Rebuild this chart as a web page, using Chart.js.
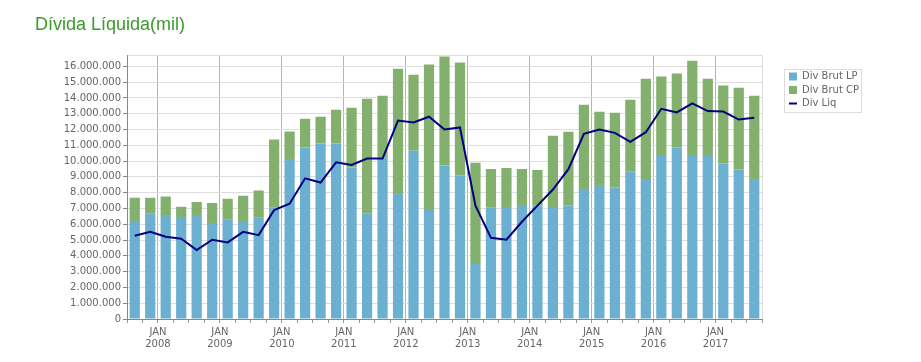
<!DOCTYPE html>
<html>
<head>
<meta charset="utf-8">
<script src="https://cdn.jsdelivr.net/npm/chart.js@4/dist/chart.umd.min.js"></script>
<style>
html,body{margin:0;padding:0;background:#fff;}
#wrap{width:921px;height:362px;}
</style>
</head>
<body>
<div id="wrap"><canvas id="c" width="921" height="362"></canvas></div>
<script>
const chartTitle = 'Dívida Líquida(mil)';
const seriesNames = ['Div Brut LP', 'Div Brut CP', 'Div Liq'];

// quarter start months, Q3 2007 .. Q3 2017
const quarters = [
  '2007-07','2007-10',
  '2008-01','2008-04','2008-07','2008-10',
  '2009-01','2009-04','2009-07','2009-10',
  '2010-01','2010-04','2010-07','2010-10',
  '2011-01','2011-04','2011-07','2011-10',
  '2012-01','2012-04','2012-07','2012-10',
  '2013-01','2013-04','2013-07','2013-10',
  '2014-01','2014-04','2014-07','2014-10',
  '2015-01','2015-04','2015-07','2015-10',
  '2016-01','2016-04','2016-07','2016-10',
  '2017-01','2017-04','2017-07'
];

const divBrutLP = [
  6200000, 6670000,
  6580000, 6460000, 6580000, 6080000,
  6290000, 6200000, 6410000, 7050000,
  10140000, 10860000, 11110000, 11110000,
  9590000, 6670000, 10220000, 7980000,
  10650000, 6970000, 9720000, 9080000,
  3490000, 7050000, 7090000, 7220000,
  7180000, 7090000, 7180000, 8230000,
  8490000, 8320000, 9330000, 8870000,
  10390000, 10860000, 10390000, 10390000,
  9840000, 9460000, 8870000
];

const divBrutCP = [
  1480000, 1010000,
  1170000, 650000, 830000, 1270000,
  1330000, 1610000, 1720000, 4320000,
  1730000, 1820000, 1700000, 2140000,
  3790000, 7280000, 3920000, 7870000,
  4820000, 9140000, 6900000, 7160000,
  6400000, 2450000, 2480000, 2280000,
  2260000, 4510000, 4670000, 5340000,
  4630000, 4740000, 4560000, 6350000,
  4960000, 4680000, 5970000, 4830000,
  4940000, 5190000, 5270000
];

const divLiq = [
  5270000, 5520000,
  5210000, 5080000, 4360000, 5020000,
  4850000, 5520000, 5310000, 6900000,
  7300000, 8910000, 8640000, 9920000,
  9760000, 10160000, 10160000, 12570000,
  12440000, 12810000, 12000000, 12130000,
  7180000, 5140000, 5020000, 6160000,
  7180000, 8200000, 9490000, 11730000,
  12000000, 11790000, 11220000, 11830000,
  13310000, 13080000, 13650000, 13170000,
  13140000, 12630000, 12740000
];

const yStep = 1000000;
const yMax = 16680000;

function fmt(v) {
  return String(Math.round(v)).replace(/\B(?=(\d{3})+(?!\d))/g, '.');
}
function isJan(i) {
  return i !== undefined && quarters[i] !== undefined && quarters[i].endsWith('-01');
}

const tickFont = { family: 'DejaVu Sans', size: 10, lineHeight: 1.25 };

const legendBox = {
  id: 'legendBox',
  afterLayout(chart) {
    const lg = chart.legend;
    if (!lg) return;
    const pad = lg.options.labels.padding;
    const w = lg.width, h = lg.height;
    lg.left = 789 - pad;
    lg.top = 71.5 - pad;
    lg.right = lg.left + w;
    lg.bottom = lg.top + h;
  },
  afterDraw(chart) {
    const lg = chart.legend;
    const hb = lg && lg.legendHitBoxes;
    if (!hb || !hb.length) return;
    let l = Infinity, t = Infinity, r = -Infinity, b = -Infinity;
    hb.forEach(h => {
      l = Math.min(l, h.left); t = Math.min(t, h.top);
      r = Math.max(r, h.left + h.width); b = Math.max(b, h.top + h.height);
    });
    const ctx = chart.ctx;
    ctx.save();
    ctx.strokeStyle = '#dddddd';
    ctx.lineWidth = 1;
    ctx.strokeRect(Math.round(l - 5) + 0.5, Math.round(t - 3) + 0.5, Math.round(r - l + 7), Math.round(b - t + 6));
    ctx.restore();
  }
};

new Chart(document.getElementById('c'), {
  type: 'bar',
  data: {
    labels: quarters,
    datasets: [
      {
        label: seriesNames[0],
        data: divBrutLP,
        backgroundColor: '#6cb0d1',
        borderWidth: 0,
        barPercentage: 0.66,
        categoryPercentage: 1,
        pointStyle: 'rect',
        order: 1
      },
      {
        label: seriesNames[1],
        data: divBrutCP,
        backgroundColor: '#83b06c',
        borderWidth: 0,
        barPercentage: 0.66,
        categoryPercentage: 1,
        pointStyle: 'rect',
        order: 1
      },
      {
        type: 'line',
        label: seriesNames[2],
        data: divLiq,
        borderColor: '#000080',
        backgroundColor: '#000080',
        borderWidth: 2,
        pointRadius: 0,
        pointBorderWidth: 2,
        pointStyle: 'line',
        tension: 0,
        fill: false,
        stack: 'liq',
        order: 0
      }
    ]
  },
  options: {
    responsive: false,
    animation: false,
    devicePixelRatio: 1,
    layout: { padding: { left: 35, right: 159, top: 0, bottom: 8 } },
    plugins: {
      title: {
        display: true,
        text: chartTitle,
        align: 'start',
        color: '#3a9b2a',
        font: { family: 'Liberation Sans', size: 18, weight: 'normal' },
        padding: { top: 14, bottom: 20 }
      },
      legend: {
        display: true,
        position: 'chartArea',
        align: 'start',
        labels: {
          usePointStyle: true,
          pointStyleWidth: 8,
          boxWidth: 8,
          boxHeight: 8,
          padding: 3.5,
          color: '#666666',
          font: { family: 'DejaVu Sans', size: 10 },
          sort: (a, b) => a.datasetIndex - b.datasetIndex
        }
      },
      tooltip: { enabled: false }
    },
    scales: {
      x: {
        stacked: true,
        offset: true,
        grid: {
          offset: true,
          tickLength: 4,
          color: c => isJan(c.index) ? '#b4b4b4' : (c.index === undefined ? '#dddddd' : 'rgba(0,0,0,0)'),
          tickColor: '#999999'
        },
        border: { color: '#888888' },
        ticks: {
          autoSkip: false,
          maxRotation: 0,
          minRotation: 0,
          labelOffset: -7.75,
          padding: 3,
          color: '#666666',
          font: tickFont,
          callback: (v, i) => isJan(i) ? ['JAN', quarters[i].slice(0, 4)] : ''
        }
      },
      y: {
        stacked: true,
        min: 0,
        max: yMax,
        afterFit(s) { s.width = 92; },
        afterBuildTicks(s) {
          const t = [];
          for (let v = s.min; v <= s.max; v += yStep) t.push({ value: v });
          if (t[t.length - 1].value < s.max) t.push({ value: s.max });
          s.ticks = t;
        },
        grid: {
          color: '#dddddd',
          tickLength: 4,
          tickColor: c => (c.tick && c.tick.value % yStep === 0) ? '#888888' : 'rgba(0,0,0,0)'
        },
        border: { color: '#888888' },
        ticks: {
          autoSkip: false,
          padding: 2,
          color: '#666666',
          font: tickFont,
          callback: v => (v % yStep === 0) ? fmt(v) : ''
        }
      }
    }
  },
  plugins: [legendBox]
});
</script>
</body>
</html>
